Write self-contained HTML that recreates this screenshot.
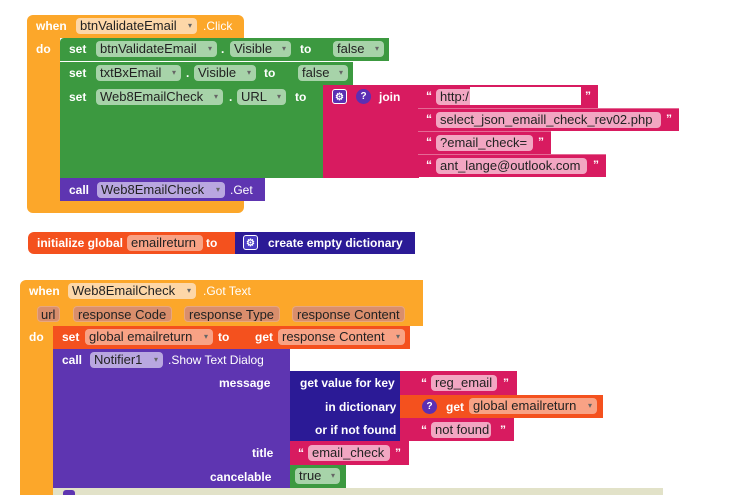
<!DOCTYPE html>
<html><head><style>
*{margin:0;padding:0;box-sizing:border-box}
body{width:738px;height:495px;background:#fff;position:relative;overflow:hidden;font-family:"Liberation Sans",sans-serif;font-size:12px}
.b{position:absolute}
.t{position:absolute;color:#fff;font-weight:bold;white-space:nowrap;line-height:14px}
.f{position:absolute;border-radius:4px;color:#222;white-space:nowrap;line-height:16px;height:16px;padding:0 4px;font-size:13px;overflow:hidden}
.dd::after{content:"\25BE";font-size:8px;color:#666;position:absolute;right:5px;top:0}
.ic{position:absolute;width:15px;height:15px;border-radius:3px;color:#fff;font-size:10px;text-align:center;line-height:15px;font-weight:bold}
</style></head><body>
<!-- block 1 -->
<div class="b" style="left:27px;top:15px;width:217px;height:198px;background:#fca72a;border-radius:6px"></div>
<div class="b" style="left:60px;top:38px;width:184px;height:162px;background:#fff"></div>
<div class="t" style="left:36px;top:19px">when</div>
<div class="f dd" style="left:76px;top:18px;width:121px;background:#fdd7a8">btnValidateEmail</div>
<div class="t" style="left:203px;top:19px;font-weight:normal">.Click</div>
<div class="t" style="left:36px;top:42px">do</div>
<div class="b" style="left:60px;top:38px;width:329px;height:23px;background:#3c9940;border-radius:4px 0 0 0"></div>
<div class="b" style="left:60px;top:62px;width:293px;height:23px;background:#3c9940"></div>
<div class="b" style="left:60px;top:85px;width:263px;height:93px;background:#3c9940"></div>
<div class="t" style="left:69px;top:42px">set</div>
<div class="f dd" style="left:96px;top:41px;width:121px;background:#a7d3a9">btnValidateEmail</div>
<div class="t" style="left:221px;top:42px">.</div>
<div class="f dd" style="left:230px;top:41px;width:61px;background:#a7d3a9">Visible</div>
<div class="t" style="left:300px;top:42px">to</div>
<div class="f dd" style="left:333px;top:41px;width:51px;background:#a7d3a9">false</div>
<div class="t" style="left:69px;top:66px">set</div>
<div class="f dd" style="left:96px;top:65px;width:85px;background:#a7d3a9">txtBxEmail</div>
<div class="t" style="left:186px;top:66px">.</div>
<div class="f dd" style="left:194px;top:65px;width:62px;background:#a7d3a9">Visible</div>
<div class="t" style="left:264px;top:66px">to</div>
<div class="f dd" style="left:298px;top:65px;width:50px;background:#a7d3a9">false</div>
<div class="t" style="left:69px;top:90px">set</div>
<div class="f dd" style="left:96px;top:89px;width:127px;background:#a7d3a9">Web8EmailCheck</div>
<div class="t" style="left:229px;top:90px">.</div>
<div class="f dd" style="left:237px;top:89px;width:49px;background:#a7d3a9">URL</div>
<div class="t" style="left:295px;top:90px">to</div>
<div class="b" style="left:323px;top:85px;width:96px;height:93px;background:#d81b60"></div>
<div class="ic" style="left:332px;top:89px;background:#5b2fb3;border:1px solid #fff">⚙</div>
<div class="ic" style="left:356px;top:89px;background:#5b2fb3;border-radius:50%">?</div>
<div class="t" style="left:379px;top:90px">join</div>
<div class="b" style="left:418px;top:85px;width:180px;height:23px;background:#d81b60"></div>
<div class="b" style="left:418px;top:108px;width:261px;height:23px;background:#d81b60;border-top:1px solid #e56a95"></div>
<div class="b" style="left:418px;top:131px;width:133px;height:23px;background:#d81b60;border-top:1px solid #e56a95"></div>
<div class="b" style="left:418px;top:154px;width:188px;height:23px;background:#d81b60;border-top:1px solid #e56a95"></div>
<div class="t" style="left:426px;top:89px">“</div><div class="f" style="left:436px;top:89px;width:40px;background:#f2a6c2">http:/</div>
<div class="b" style="left:470px;top:87px;width:111px;height:18px;background:#fff"></div><div class="t" style="left:585px;top:89px">”</div>
<div class="t" style="left:426px;top:112px">“</div><div class="f" style="left:436px;top:112px;width:225px;background:#f2a6c2">select_json_emaill_check_rev02.php</div><div class="t" style="left:666px;top:112px">”</div>
<div class="t" style="left:426px;top:135px">“</div><div class="f" style="left:436px;top:135px;width:97px;background:#f2a6c2">?email_check=</div><div class="t" style="left:538px;top:135px">”</div>
<div class="t" style="left:426px;top:158px">“</div><div class="f" style="left:436px;top:158px;width:151px;background:#f2a6c2">ant_lange@outlook.com</div><div class="t" style="left:593px;top:158px">”</div>
<div class="b" style="left:60px;top:178px;width:205px;height:23px;background:#5e35b1"></div>
<div class="t" style="left:69px;top:183px">call</div>
<div class="f dd" style="left:97px;top:182px;width:128px;background:#b9a7e0">Web8EmailCheck</div>
<div class="t" style="left:230px;top:183px;font-weight:normal">.Get</div>
<!-- init -->
<div class="b" style="left:28px;top:232px;width:208px;height:22px;background:#f4511e;border-radius:6px 0 0 6px"></div>
<div class="b" style="left:235px;top:232px;width:180px;height:22px;background:#2b1a96"></div>
<div class="t" style="left:37px;top:236px">initialize global</div>
<div class="f" style="left:127px;top:235px;width:76px;background:#f8a285">emailreturn</div>
<div class="t" style="left:206px;top:236px">to</div>
<div class="ic" style="left:243px;top:235px;background:#4a3cc4;border:1px solid #fff">⚙</div>
<div class="t" style="left:268px;top:236px">create empty dictionary</div>
<!-- block 2 -->
<div class="b" style="left:20px;top:280px;width:403px;height:46px;background:#fca72a;border-radius:6px 0 0 0"></div>
<div class="b" style="left:20px;top:326px;width:33px;height:169px;background:#fca72a"></div>
<div class="t" style="left:29px;top:284px">when</div>
<div class="f dd" style="left:68px;top:283px;width:128px;background:#fdd7a8">Web8EmailCheck</div>
<div class="t" style="left:203px;top:284px;font-weight:normal">.Got Text</div>
<div class="f" style="left:37px;top:306px;width:23px;background:#d98e6c;border:1px solid #e8a77f;padding:0 3px">url</div>
<div class="f" style="left:73px;top:306px;width:99px;background:#d98e6c;border:1px solid #e8a77f">response Code</div>
<div class="f" style="left:184px;top:306px;width:96px;background:#d98e6c;border:1px solid #e8a77f">response Type</div>
<div class="f" style="left:292px;top:306px;width:113px;background:#d98e6c;border:1px solid #e8a77f">response Content</div>
<div class="t" style="left:29px;top:330px">do</div>
<div class="b" style="left:53px;top:326px;width:357px;height:23px;background:#f4511e"></div>
<div class="t" style="left:62px;top:330px">set</div>
<div class="f dd" style="left:85px;top:329px;width:128px;background:#f8a285">global emailreturn</div>
<div class="t" style="left:218px;top:330px">to</div>
<div class="t" style="left:255px;top:330px">get</div>
<div class="f dd" style="left:278px;top:329px;width:127px;background:#f8a285">response Content</div>
<div class="b" style="left:53px;top:349px;width:237px;height:139px;background:#5e35b1"></div>
<div class="t" style="left:62px;top:353px">call</div>
<div class="f dd" style="left:90px;top:352px;width:73px;background:#b9a7e0">Notifier1</div>
<div class="t" style="left:168px;top:353px;font-weight:normal">.Show Text Dialog</div>
<div class="t" style="left:219px;top:376px">message</div>
<div class="t" style="left:252px;top:446px">title</div>
<div class="t" style="left:210px;top:470px">cancelable</div>
<div class="b" style="left:290px;top:371px;width:110px;height:70px;background:#2b1a96"></div>
<div class="t" style="left:300px;top:376px">get value for key</div>
<div class="t" style="left:325px;top:400px">in dictionary</div>
<div class="t" style="left:315px;top:423px">or if not found</div>
<div class="b" style="left:400px;top:371px;width:117px;height:24px;background:#d81b60"></div>
<div class="t" style="left:421px;top:376px">“</div><div class="f" style="left:431px;top:375px;width:66px;background:#f2a6c2">reg_email</div><div class="t" style="left:503px;top:376px">”</div>
<div class="b" style="left:400px;top:395px;width:203px;height:23px;background:#f4511e"></div>
<div class="ic" style="left:422px;top:399px;background:#5b2fb3;border-radius:50%">?</div>
<div class="t" style="left:446px;top:400px">get</div>
<div class="f dd" style="left:469px;top:398px;width:128px;background:#f8a285">global emailreturn</div>
<div class="b" style="left:400px;top:418px;width:114px;height:23px;background:#d81b60"></div>
<div class="t" style="left:421px;top:423px">“</div><div class="f" style="left:431px;top:422px;width:60px;background:#f2a6c2">not found</div><div class="t" style="left:500px;top:423px">”</div>
<div class="b" style="left:290px;top:441px;width:119px;height:24px;background:#d81b60"></div>
<div class="t" style="left:298px;top:446px">“</div><div class="f" style="left:308px;top:445px;width:82px;background:#f2a6c2">email_check</div><div class="t" style="left:395px;top:446px">”</div>
<div class="b" style="left:290px;top:465px;width:56px;height:23px;background:#3c9940"></div>
<div class="f dd" style="left:295px;top:468px;width:45px;background:#a7d3a9">true</div>
<div class="b" style="left:53px;top:488px;width:610px;height:7px;background:#e2e2c8"></div>
<div class="b" style="left:63px;top:490px;width:12px;height:5px;background:#5e35b1;border-radius:3px 3px 0 0"></div>
</body></html>
